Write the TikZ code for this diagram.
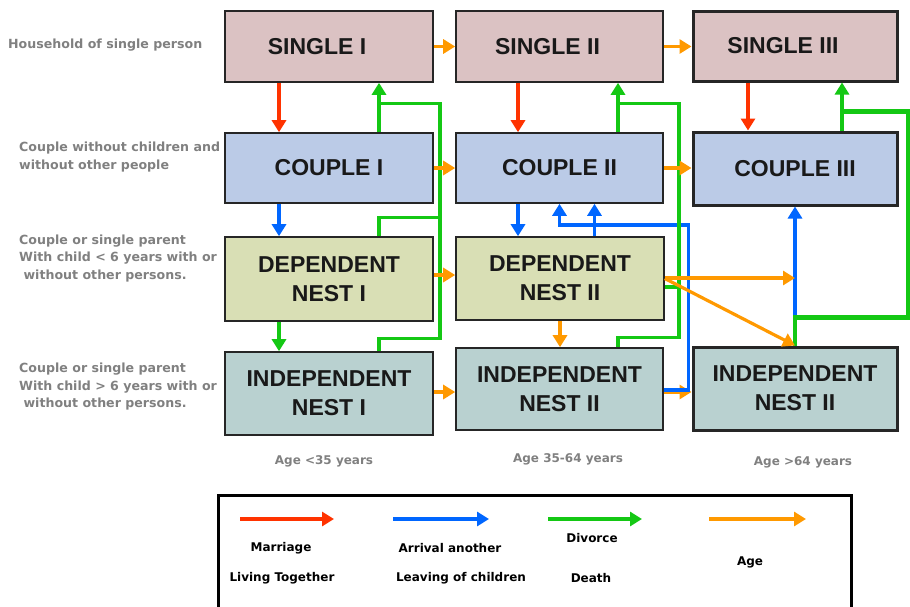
\documentclass[tikz,border=0pt]{standalone}
\usepackage{fontspec}
\setmainfont{Liberation Sans}
\newfontfamily\smallfont{DejaVu Sans}
\usetikzlibrary{arrows.meta,calc}
\definecolor{cSingle}{RGB}{219,194,195}
\definecolor{cCouple}{RGB}{187,203,231}
\definecolor{cDep}{RGB}{217,223,181}
\definecolor{cIndep}{RGB}{185,209,208}
\definecolor{cRed}{RGB}{255,51,0}
\definecolor{cBlue}{RGB}{0,102,255}
\definecolor{cGreen}{RGB}{20,200,20}
\definecolor{cOrange}{RGB}{255,153,0}
\definecolor{cGray}{RGB}{128,128,128}
\begin{document}
\begin{tikzpicture}[x=1pt,y=-1pt,
  box/.style={draw=black!85, line width=1.6pt, minimum width=208pt, inner sep=0pt, align=center,
    font=\fontsize{23}{29}\selectfont\bfseries, text=black!90},
  thickbox/.style={box, line width=3pt, minimum width=204pt},
  side/.style={font=\smallfont\bfseries\fontsize{12.6}{17.5}\selectfont, text=cGray, align=left, anchor=west, inner sep=0pt},
  agelbl/.style={font=\smallfont\bfseries\fontsize{12}{14}\selectfont, text=cGray, inner sep=0pt},
  legtxt/.style={font=\smallfont\bfseries\fontsize{12}{14}\selectfont, text=black, inner sep=0pt},
  arr/.style={line width=3.2pt, -{Triangle[length=12pt,width=14pt]}},
  ln/.style={line width=3.2pt},
]
\useasboundingbox (0,0) rectangle (910,606);
% boxes
\node[box, fill=cSingle, minimum height=71pt] (s1) at (329,46.5) {\hspace*{-24pt}SINGLE I};
\node[box, fill=cCouple, minimum height=70pt] (c1) at (329,168) {COUPLE I};
\node[box, fill=cDep, minimum height=84pt] (d1) at (329,279) {DEPENDENT\\NEST I};
\node[box, fill=cIndep, minimum height=83pt] (i1) at (329,393.5) {INDEPENDENT\\NEST I};
\node[box, fill=cSingle, minimum height=71pt, minimum width=207pt] (s2) at (559.5,46.5) {\hspace*{-24pt}SINGLE II};
\node[box, fill=cCouple, minimum height=70pt, minimum width=207pt] (c2) at (559.5,168) {COUPLE II};
\node[box, fill=cDep, minimum height=83pt] (d2) at (560,278.5) {DEPENDENT\\NEST II};
\node[box, fill=cIndep, minimum height=82pt, minimum width=207pt] (i2) at (559.5,389) {INDEPENDENT\\NEST II};
\node[thickbox, fill=cSingle, minimum height=70pt] (s3) at (795,46) {\hspace*{-24pt}SINGLE III};
\node[thickbox, fill=cCouple, minimum height=73pt] (c3) at (795,168.5) {COUPLE III};
\node[thickbox, fill=cIndep, minimum height=83pt] (i3) at (795,388.5) {INDEPENDENT\\NEST II};
% side labels
\node[side] (l1) at (8,45) {Household of single person};
\node[side] (l2) at (19,157) {Couple without children and\\without other people};
\node[side] (l3) at (19,258.5) {Couple or single parent\\With child < 6 years with or\\\ without other persons.};
\node[side] (l4) at (19,387) {Couple or single parent\\With child > 6 years with or\\\ without other persons.};
% age labels
\node[agelbl] (a1) at (324,461) {Age <35 years};
\node[agelbl] (a2) at (568,459) {Age 35-64 years};
\node[agelbl] (a3) at (803,462) {Age >64 years};
% red
\draw[arr, cRed] ([xshift=-50pt]s1.south) -- ([xshift=-50pt]c1.north);
\draw[arr, cRed] ([xshift=-41.5pt]s2.south) -- ([xshift=-41.5pt]c2.north);
\draw[arr, cRed] ([xshift=-47pt]s3.south) -- ([xshift=-47pt]c3.north);
% orange under blue
\draw[arr, cOrange] ([yshift=-3pt]i2.east) -- ([yshift=-3pt]i2.east -| i3.west);
% blue
\draw[arr, cBlue] ([xshift=-50pt]c1.south) -- ([xshift=-50pt]d1.north);
\draw[arr, cBlue] ([xshift=-41.5pt]c2.south) -- ([xshift=-41.5pt]c2.south |- d2.north);
\draw[arr, cBlue] ([xshift=34.5pt]d2.north) -- ([xshift=34.5pt]d2.north |- c2.south);
\draw[arr, cBlue] ([yshift=-1pt]i2.east) -- ++(25,0) -- ++(0,-165) -| (c2.south);
\draw[arr, cBlue] (i3.north) -- (c3.south);
% green
\draw[arr, cGreen] ([xshift=-50pt]d1.south) -- ([xshift=-50pt]i1.north);
\draw[arr, cGreen] ([xshift=50pt]c1.north) -- ([xshift=50pt]s1.south);
\draw[ln, cGreen] ([xshift=50pt]i1.north) -- ++(0,-13) -- ++(61,0) -- ++(0,-235) -- ++(-61,0);
\draw[ln, cGreen] ([xshift=50pt]d1.north) -- ++(0,-19) -- ++(61,0);
\draw[arr, cGreen] ([xshift=58.5pt]c2.north) -- ([xshift=58.5pt]s2.south);
\draw[ln, cGreen] ([xshift=58.5pt]i2.north) -- ++(0,-10) -- ++(61,0) -- ++(0,-234) -- ++(-61,0);
\draw[ln, cGreen] ([yshift=-8.5pt]d2.east) -- ++(15,0);
\draw[arr, cGreen, line width=4.5pt] ([xshift=47pt]c3.north) -- ([xshift=47pt]s3.south);
\draw[ln, cGreen, line width=4.5pt] (i3.north) -- ++(0,-28) -- ++(113,0) -- ++(0,-206) -- ++(-66,0);
% orange
\draw[arr, cOrange] (s1.east) -- (s2.west);
\draw[arr, cOrange] (s2.east) -- (s2.east -| s3.west);
\draw[arr, cOrange] (c1.east) -- (c2.west);
\draw[arr, cOrange] (c2.east) -- (c2.east -| c3.west);
\draw[arr, cOrange] ([yshift=4pt]d1.east) -- ([yshift=4pt]d1.east -| d2.west);
\draw[arr, cOrange] ([yshift=1.5pt]i1.east) -- ([yshift=1.5pt]i1.east -| i2.west);
\draw[arr, cOrange] (d2.south) -- (d2.south |- i2.north);
\draw[arr, cOrange] ([yshift=0.5pt]d2.east) -- ([yshift=0.5pt]d2.east -| i3.north);
\draw[arr, cOrange] (d2.east) -- (i3.north);
% legend
\node[draw=black, line width=3pt, minimum width=633pt, minimum height=125pt, anchor=north west, inner sep=0pt] (leg) at (217,494) {};
\coordinate (r0) at (240,519); \coordinate (r1) at (334,519);
\coordinate (b0) at (393,519); \coordinate (b1) at (489,519);
\coordinate (g0) at (548,519); \coordinate (g1) at (642,519);
\coordinate (o0) at (709,519); \coordinate (o1) at (806,519);
\draw[arr, cRed] (r0) -- (r1);
\draw[arr, cBlue] (b0) -- (b1);
\draw[arr, cGreen] (g0) -- (g1);
\draw[arr, cOrange] (o0) -- (o1);
\node[legtxt] (t1) at (281,548) {Marriage};
\node[legtxt] (t2) at (282,578) {Living Together};
\node[legtxt] (t3) at (450,548) {Arrival another};
\node[legtxt] (t4) at (461,578) {Leaving of children};
\node[legtxt] (t5) at (592,538) {Divorce};
\node[legtxt] (t6) at (591,578) {Death};
\node[legtxt] (t7) at (750,562) {Age};
\end{tikzpicture}
\end{document}
